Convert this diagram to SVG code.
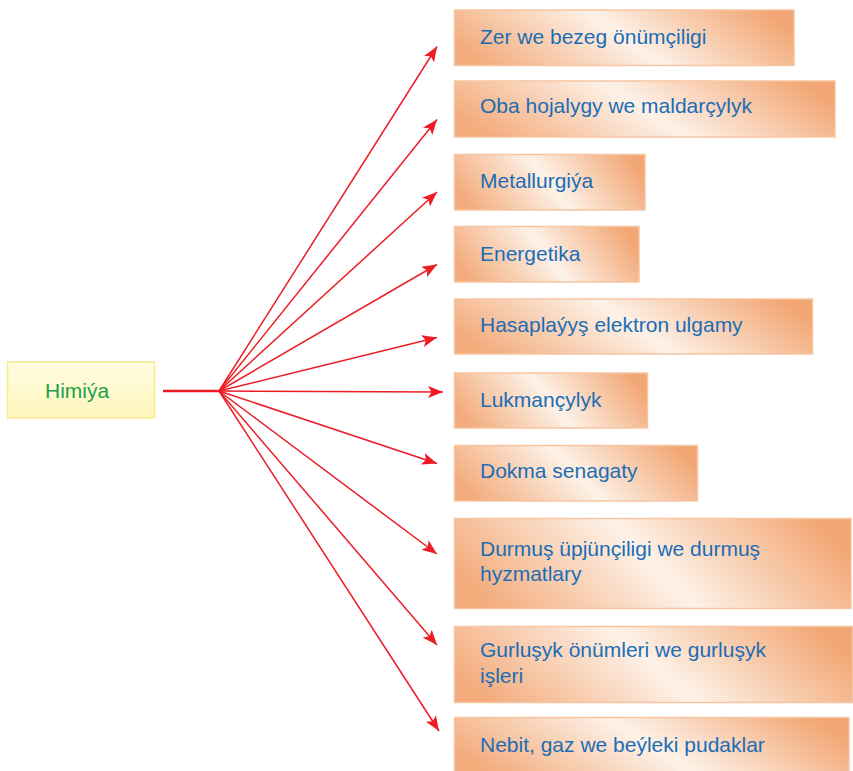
<svg xmlns="http://www.w3.org/2000/svg" width="853" height="771" viewBox="0 0 853 771">
<defs>
<linearGradient id="og" x1="0" y1="0.61" x2="1" y2="0.39">
<stop offset="0" stop-color="#f3ab7b"/>
<stop offset="0.5" stop-color="#fdf2e8"/>
<stop offset="1" stop-color="#f2a673"/>
</linearGradient>
<linearGradient id="yg" x1="0" y1="0" x2="0" y2="1">
<stop offset="0" stop-color="#fffde2"/>
<stop offset="1" stop-color="#fff6ba"/>
</linearGradient>
<marker id="ah" markerUnits="userSpaceOnUse" markerWidth="15" markerHeight="12" viewBox="0 0 15 12" refX="15" refY="6" orient="auto">
<path d="M0,0 L15,6 L0,12 L3.5,6 z" fill="#ed1c24"/>
</marker>
<style>
.box{fill:url(#og);stroke:#f7c5a1;stroke-width:1.5}
.t{font-family:"Liberation Sans",Arial,sans-serif;font-size:21px;fill:#1b6db6}
.c{stroke:#ed1c24;stroke-width:1.5;fill:none;marker-end:url(#ah)}
</style>
</defs>
<g id="himiya">
<rect x="7.5" y="362" width="147" height="56" fill="url(#yg)" stroke="#f8ec8c" stroke-width="1.5"/>
<text x="45" y="397.7" style="font-family:'Liberation Sans',Arial,sans-serif;font-size:21px;fill:#1ba14b">Himiýa</text>
</g>
<g id="connectors">
<line x1="163" y1="391" x2="220" y2="391" stroke="#ed1c24" stroke-width="2.5"/>
<line class="c" x1="219" y1="391" x2="437" y2="46.5"/>
<line class="c" x1="219" y1="391" x2="437" y2="119.5"/>
<line class="c" x1="219" y1="391" x2="437" y2="192"/>
<line class="c" x1="219" y1="391" x2="437" y2="264.5"/>
<line class="c" x1="219" y1="391" x2="437" y2="337.5"/>
<line class="c" x1="219" y1="391" x2="443" y2="392"/>
<line class="c" x1="219" y1="391" x2="437" y2="463.5"/>
<line class="c" x1="219" y1="391" x2="437" y2="554"/>
<line class="c" x1="219" y1="391" x2="437" y2="645"/>
<line class="c" x1="219" y1="391" x2="439" y2="731"/>
</g>
<g id="n1"><rect class="box" x="454.5" y="10" width="339.5" height="55.5"/><text class="t" x="480" y="43.5">Zer we bezeg önümçiligi</text></g>
<g id="n2"><rect class="box" x="454.5" y="81" width="380.5" height="56"/><text class="t" x="480" y="113.3">Oba hojalygy we maldarçylyk</text></g>
<g id="n3"><rect class="box" x="454.5" y="154.5" width="190.5" height="55.5"/><text class="t" x="480" y="188.3">Metallurgiýa</text></g>
<g id="n4"><rect class="box" x="454.5" y="226.5" width="184.5" height="55.5"/><text class="t" x="480" y="261">Energetika</text></g>
<g id="n5"><rect class="box" x="454.5" y="299" width="358" height="55"/><text class="t" x="480" y="331.7">Hasaplaýyş elektron ulgamy</text></g>
<g id="n6"><rect class="box" x="454.5" y="373" width="193" height="55"/><text class="t" x="480" y="406.7">Lukmançylyk</text></g>
<g id="n7"><rect class="box" x="454.5" y="445.5" width="243" height="55.5"/><text class="t" x="480" y="478.3">Dokma senagaty</text></g>
<g id="n8"><rect class="box" x="454.5" y="518.5" width="396.5" height="90"/><text class="t" x="480" y="555.7">Durmuş üpjünçiligi we durmuş</text><text class="t" x="480" y="581.2">hyzmatlary</text></g>
<g id="n9"><rect class="box" x="454.5" y="626.5" width="398" height="76"/><text class="t" x="480" y="656.7">Gurluşyk önümleri we gurluşyk</text><text class="t" x="480" y="682.7">işleri</text></g>
<g id="n10"><rect class="box" x="454.5" y="717.5" width="394.5" height="56"/><text class="t" x="480" y="752.3">Nebit, gaz we beýleki pudaklar</text></g>
</svg>
